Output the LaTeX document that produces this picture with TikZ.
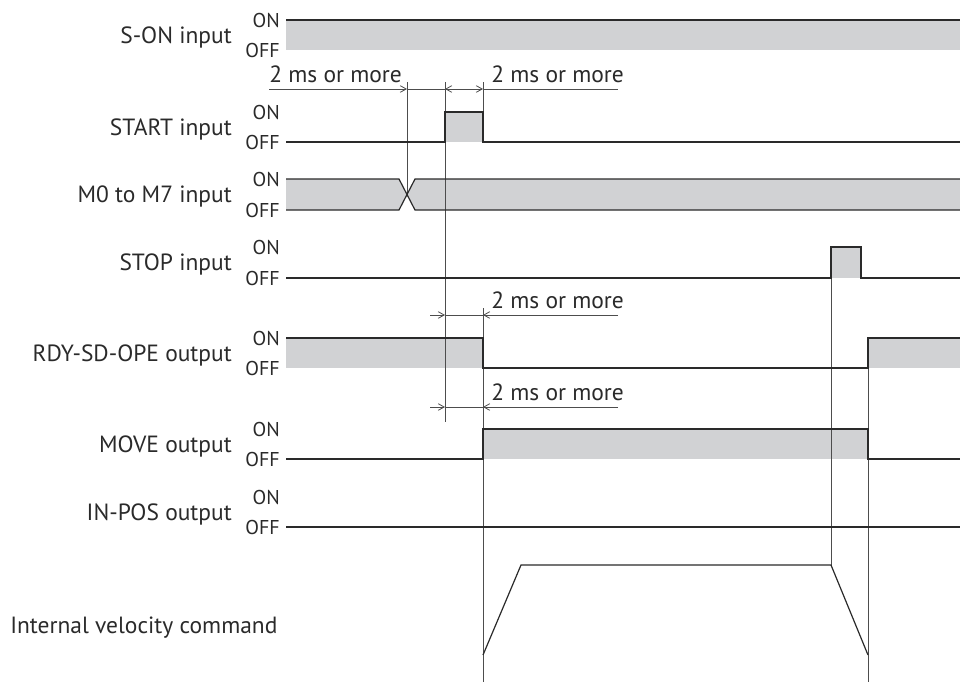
\documentclass[tikz,border=0pt]{standalone}
\usepackage{fontspec}
\setmainfont{PT Sans}
\usepackage{tikz}
\usetikzlibrary{arrows.meta}
\definecolor{tcgrey}{HTML}{D1D2D4}
\definecolor{tcline}{HTML}{2A2A2A}
\definecolor{tcguide}{HTML}{4D4D4D}
\tikzset{
  signame/.style={anchor=base east,inner sep=0pt,font=\fontsize{17.6}{20}\selectfont,text=tcline},
  levtxt/.style={anchor=base east,inner sep=0pt,font=\fontsize{15}{17}\selectfont,text=tcline},
  dimtxt/.style={anchor=base west,inner sep=0pt,font=\fontsize{17.6}{20}\selectfont,text=tcline},
  sigfill/.style={fill=tcgrey,draw=none},
  sigline/.style={draw=tcline,line width=0.9pt,line join=miter},
  guide/.style={draw=tcguide,line width=0.6pt},
  barb/.style={guide,-{Straight Barb[length=4.5pt,width=5pt]}},
  dbarb/.style={guide,{Straight Barb[length=4.5pt,width=5pt]}-{Straight Barb[length=4.5pt,width=5pt]}}
}
\begin{document}
\begin{tikzpicture}[x=0.75pt,y=-0.75pt]
    \useasboundingbox (0,0) rectangle (960,682);
    % signal names
    \node[signame] (son) at (232,43) {S-ON input};
    \node[signame] (start) at (232,135) {START input};
    \node[signame] (msel) at (232,202) {M0 to M7 input};
    \node[signame] (stop) at (232,270) {STOP input};
    \node[signame] (rdy) at (232,361) {RDY-SD-OPE output};
    \node[signame] (move) at (232,452) {MOVE output};
    \node[signame] (inpos) at (232,520) {IN-POS output};
    \node[signame,anchor=base west] (vel) at (10,633) {Internal velocity command};
    % levels
    \node[levtxt] (sonon) at (280,27) {ON};
    \node[levtxt] (sonoff) at (280,57) {OFF};
    \node[levtxt] (starton) at (280,119) {ON};
    \node[levtxt] (startoff) at (280,149) {OFF};
    \node[levtxt] (mselon) at (280,186) {ON};
    \node[levtxt] (mseloff) at (280,217) {OFF};
    \node[levtxt] (stopon) at (280,254) {ON};
    \node[levtxt] (stopoff) at (280,285) {OFF};
    \node[levtxt] (rdyon) at (280,345) {ON};
    \node[levtxt] (rdyoff) at (280,375) {OFF};
    \node[levtxt] (moveon) at (280,436) {ON};
    \node[levtxt] (moveoff) at (280,466) {OFF};
    \node[levtxt] (inposon) at (280,504) {ON};
    \node[levtxt] (inposoff) at (280,534) {OFF};
    % grey areas
    \fill[sigfill] (286,20) rectangle (960,50);
    \fill[sigfill] (445,112) rectangle (483,142);
    \fill[sigfill] (286,179) -- (399,179) -- (407,194.5) -- (399,210) -- (286,210) -- cycle;
    \fill[sigfill] (415,179) -- (960,179) -- (960,210) -- (415,210) -- (407,194.5) -- cycle;
    \fill[sigfill] (831,247) rectangle (861,278);
    \fill[sigfill] (286,338) rectangle (483,368);
    \fill[sigfill] (868,338) rectangle (960,368);
    \fill[sigfill] (483,429) rectangle (868,459);
    % guide lines
    \draw[guide] (407,82) -- (407,194.5);
    \draw[guide] (445,82) -- (445,422);
    \draw[guide] (483,82) -- (483,112);
    \draw[guide] (483,308) -- (483,682);
    \draw[guide] (831,247) -- (831,565);
    \draw[guide] (868,338) -- (868,682);
    % timing marks
    \node[dimtxt] (dima) at (269,82) {2 ms or more};
    \node[dimtxt] (dimb) at (491,82) {2 ms or more};
    \node[dimtxt] (dimc) at (491,308) {2 ms or more};
    \node[dimtxt] (dimd) at (491,400) {2 ms or more};
    \draw[barb] (269,89) -- (407,89);
    \draw[guide] (407,89) -- (445,89);
    \draw[dbarb] (445,89) -- (483,89);
    \draw[guide] (483,89) -- (618,89);
    \draw[barb] (430,315) -- (445,315);
    \draw[guide] (445,315) -- (483,315);
    \draw[barb] (618,315) -- (483,315);
    \draw[barb] (430,407) -- (445,407);
    \draw[guide] (445,407) -- (483,407);
    \draw[barb] (618,407) -- (483,407);
    % waveforms
    \draw[sigline] (286,20) -- (960,20);
    \draw[sigline] (286,142) -- (445,142) -- (445,112) -- (483,112) -- (483,142) -- (960,142);
    \draw[sigline] (286,179) -- (399,179) -- (415,210) -- (960,210);
    \draw[sigline] (286,210) -- (399,210) -- (415,179) -- (960,179);
    \draw[sigline] (286,278) -- (831,278) -- (831,247) -- (861,247) -- (861,278) -- (960,278);
    \draw[sigline] (286,338) -- (483,338) -- (483,368) -- (868,368) -- (868,338) -- (960,338);
    \draw[sigline] (286,459) -- (483,459) -- (483,429) -- (868,429) -- (868,459) -- (960,459);
    \draw[sigline] (286,527) -- (960,527);
    \draw[sigline] (483,655) -- (521,565) -- (831,565) -- (868,655);
  \end{tikzpicture}
\end{document}
